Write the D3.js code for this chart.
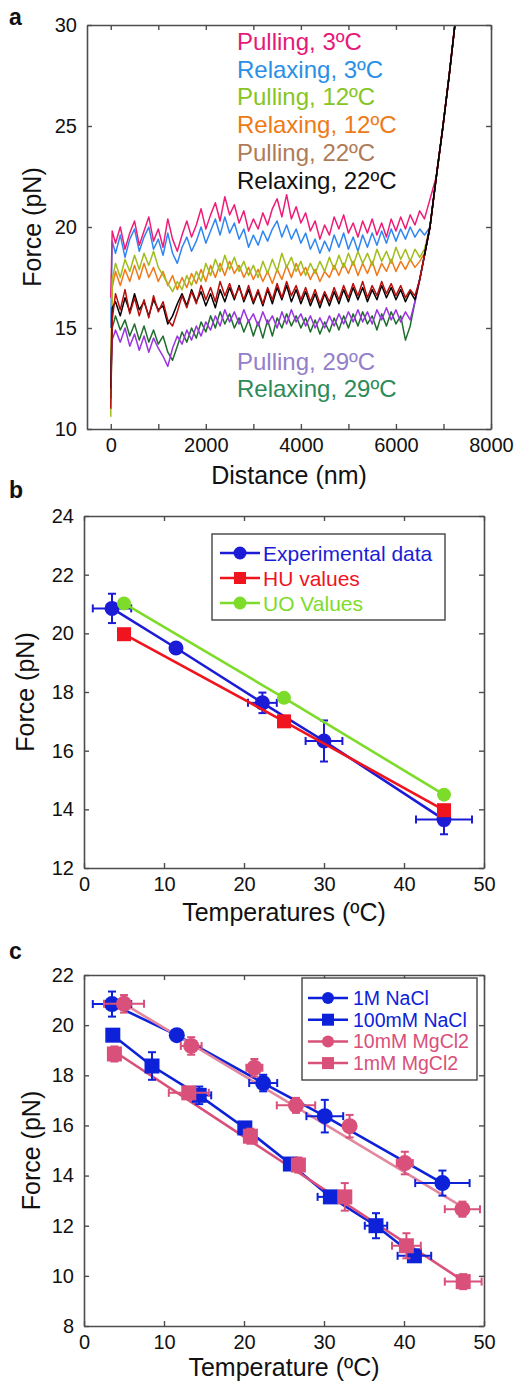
<!DOCTYPE html>
<html>
<head>
<meta charset="utf-8">
<script src="https://cdn.jsdelivr.net/npm/d3@7"></script>
<style>
  body { margin: 0; background: #fff; }
  svg { display: block; font-family: 'Liberation Sans', Arial, Helvetica, sans-serif; }
</style>
</head>
<body>
<svg id="canvas" width="519" height="1381"></svg>
<script>
// ---- panel a : force vs distance traces ----
let distNm = [0, 30, 100, 200, 300, 400, 500, 600, 700, 800,
  900, 1000, 1100, 1200, 1300, 1400, 1500, 1600, 1700, 1800,
  1900, 2000, 2100, 2200, 2300, 2400, 2500, 2600, 2700, 2800,
  2900, 3000, 3100, 3200, 3300, 3400, 3500, 3600, 3700, 3800,
  3900, 4000, 4100, 4200, 4300, 4400, 4500, 4600, 4700, 4800,
  4900, 5000, 5100, 5200, 5300, 5400, 5500, 5600, 5700, 5800,
  5900, 6000, 6100, 6200, 6300, 6400, 6500, 6600]
let pull3 = [16.5, 19.8, 19.2, 20.0, 18.9, 19.7, 20.3, 19.1, 19.8, 20.5,
  19.3, 19.9, 19.0, 20.4, 19.4, 18.8, 19.6, 20.3, 19.5, 20.1,
  20.9, 19.9, 20.6, 21.2, 20.3, 21.5, 20.6, 21.1, 20.2, 20.8,
  19.8, 20.4, 19.9, 20.7, 20.1, 20.9, 21.4, 20.5, 21.6, 20.4,
  21.0, 20.2, 20.7, 19.8, 20.3, 19.4, 20.1, 19.6, 20.5, 19.9,
  20.6, 19.7, 20.2, 19.5, 20.3, 19.7, 20.4, 19.6, 20.2, 19.5,
  20.4, 19.8, 20.5, 19.9, 20.6, 20.1, 20.8, 20.4]
let relax3 = [15.0, 19.3, 18.7, 19.6, 18.5, 19.4, 19.9, 18.8, 19.5, 20.0,
  18.9, 19.4, 18.6, 19.7, 18.7, 18.2, 19.0, 19.5, 18.8, 19.3,
  20.0, 19.2, 19.8, 20.4, 19.6, 20.5, 19.7, 20.2, 19.4, 19.9,
  19.0, 19.6, 19.1, 19.8, 19.3, 19.9, 20.3, 19.5, 20.1, 19.4,
  19.9, 19.2, 19.7, 18.9, 19.4, 18.7, 19.3, 18.8, 19.6, 19.0,
  19.7, 18.9, 19.5, 18.8, 19.6, 19.0, 19.7, 19.1, 19.8, 19.2,
  19.9, 19.3, 19.9, 19.4, 20.0, 19.5, 19.9, 19.6]
let pull12 = [10.6, 17.4, 18.2, 17.5, 18.4, 17.8, 18.6, 17.9, 18.7, 18.1,
  18.8, 18.0, 17.6, 17.2, 16.8, 17.3, 16.9, 17.6, 17.1, 17.8,
  17.3, 18.2, 17.6, 18.4, 17.8, 18.6, 17.9, 18.5, 17.8, 18.3,
  17.6, 18.1, 17.5, 18.3, 17.7, 18.4, 17.8, 18.7, 18.0, 18.5,
  17.8, 18.3, 17.6, 18.2, 17.7, 18.3, 17.8, 18.5, 17.9, 18.6,
  18.0, 18.7, 18.1, 18.8, 18.2, 18.7, 18.1, 18.9, 18.3, 18.8,
  18.2, 19.0, 18.4, 18.9, 18.3, 18.9, 18.5, 18.9]
let relax12 = [13.0, 17.0, 17.8, 17.1, 17.9, 17.3, 18.1, 17.4, 18.2, 17.5,
  18.0, 17.3, 17.8, 17.1, 17.6, 16.9, 17.5, 17.0, 17.7, 17.2,
  17.9, 17.3, 18.1, 17.5, 18.2, 17.6, 18.3, 17.7, 18.1, 17.5,
  18.0, 17.4, 17.9, 17.3, 17.8, 17.2, 17.9, 17.4, 18.1, 17.5,
  18.2, 17.6, 18.0, 17.4, 17.9, 17.3, 17.8, 17.5, 18.1, 17.6,
  18.2, 17.7, 18.3, 17.6, 18.2, 17.7, 18.3, 17.6, 18.2, 17.8,
  18.4, 17.8, 18.3, 17.9, 18.4, 18.0, 18.3, 18.7]
let pull22 = [11.0, 15.4, 16.7, 15.9, 16.9, 15.7, 16.5, 15.6, 16.4, 15.5,
  16.6, 15.8, 16.3, 15.4, 15.1, 15.8, 16.6, 16.0, 16.8, 16.2,
  17.1, 16.4, 17.0, 16.3, 17.3, 16.6, 17.2, 16.5, 17.0, 16.4,
  17.1, 16.3, 16.9, 16.2, 17.0, 16.4, 17.2, 16.5, 17.3, 16.6,
  17.1, 16.4, 17.0, 16.3, 16.9, 16.2, 16.8, 16.3, 17.0, 16.4,
  17.1, 16.5, 17.2, 16.6, 17.3, 16.5, 17.1, 16.6, 17.3, 16.7,
  17.2, 16.6, 17.1, 16.5, 16.9, 16.6, 17.4, 18.6]
let relax22 = [12.0, 16.0, 16.3, 15.6, 16.5, 15.8, 16.7, 15.9, 16.3, 15.6,
  16.4, 15.9, 16.1, 15.2, 15.6, 16.2, 16.7, 16.1, 16.9, 16.3,
  16.8, 16.1, 16.7, 16.0, 16.9, 16.3, 17.0, 16.4, 17.1, 16.3,
  16.9, 16.2, 16.8, 16.1, 16.9, 16.2, 17.0, 16.4, 17.1, 16.3,
  16.9, 16.2, 16.8, 16.1, 16.7, 16.0, 16.7, 16.1, 16.8, 16.2,
  16.9, 16.3, 17.0, 16.4, 17.0, 16.3, 16.9, 16.4, 17.1, 16.5,
  17.0, 16.4, 16.9, 16.3, 16.8, 16.4, 17.4, 18.6]
let pull29 = [12.5, 14.4, 14.9, 14.3, 15.0, 14.1, 14.7, 13.9, 14.6, 13.8,
  14.5, 14.0, 13.6, 13.1, 14.0, 14.6, 14.2, 14.9, 14.4, 15.1,
  14.6, 15.3, 14.9, 15.6, 15.1, 15.9, 15.3, 15.8, 15.2, 15.9,
  15.3, 15.7, 15.1, 15.8, 15.2, 15.6, 15.0, 15.8, 15.2, 15.9,
  15.3, 15.7, 15.1, 15.6, 15.0, 15.5, 15.0, 15.6, 15.1, 15.7,
  15.2, 15.8, 15.3, 15.9, 15.3, 15.8, 15.2, 15.9, 15.4, 16.0,
  15.4, 15.9, 15.3, 15.8, 15.4, 16.3, 17.4, 18.6]
let relax29 = [11.5, 15.0, 15.6, 14.9, 15.4, 14.6, 15.2, 14.4, 15.1, 14.3,
  14.9, 14.2, 14.6, 13.8, 13.4, 14.1, 14.8, 14.3, 15.0, 14.5,
  15.3, 14.8, 15.6, 15.0, 15.8, 15.2, 15.7, 15.0, 15.5, 14.8,
  15.4, 14.6, 15.3, 14.5, 15.4, 14.6, 15.5, 15.0, 15.7, 15.1,
  15.6, 15.0, 15.5, 14.8, 15.4, 14.7, 15.3, 14.8, 15.5, 14.9,
  15.6, 15.0, 15.7, 15.1, 15.8, 15.2, 15.6, 14.9, 15.7, 15.1,
  15.8, 15.2, 15.6, 14.4, 15.1, 16.3, 17.4, 18.6]
// common stretching branch at the end of every trace
let riseNm = [6600, 6716, 6850, 6990, 7120, 7240]
let risePn = [18.6, 20, 22.5, 25, 27.5, 30]

let traceNames = ['Pulling, 3ºC', 'Relaxing, 3ºC', 'Pulling, 12ºC', 'Relaxing, 12ºC', 'Pulling, 22ºC', 'Relaxing, 22ºC', 'Pulling, 29ºC', 'Relaxing, 29ºC']
let traceForces = [pull3, relax3, pull12, relax12, pull22, relax22, pull29, relax29]
let traceColors = ['#ee1c78', '#2f86f0', '#a0bd1c', '#f07818', '#b80d0d', '#000000', '#9b34e0', '#1d6e2a']
let labelColors = ['#e6197a', '#2a8fe6', '#86c523', '#ee7a16', '#b07c58', '#111111', '#9480c8', '#2e8a58']
let drawOrder = [1, 0, 3, 2, 7, 6, 5, 4]

let xTicksA = [0, 1000, 2000, 3000, 4000, 5000, 6000, 7000, 8000]
let yTicksA = [10, 15, 20, 25, 30]

// ---- panel b : force vs temperature, models ----
let tempExp = [3.5, 11.5, 22.3, 30, 45]
let forceExp = [20.85, 19.5, 17.63, 16.33, 13.65]
let tempErrExp = [2.4, 0, 1.8, 2.3, 3.5]
let forceErrExp = [0.5, 0, 0.35, 0.7, 0.5]
let tempModel = [5, 25, 45]
let forceHU = [19.97, 17.0, 13.97]
let forceUO = [21.02, 17.8, 14.5]
let legendB = ['Experimental data', 'HU values', 'UO Values']

let xTicksBC = [0, 10, 20, 30, 40, 50]
let yTicksB = [12, 14, 16, 18, 20, 22, 24]

// ---- panel c : salt conditions ----
let tempNaCl1M = [3.5, 11.6, 22.4, 30.1, 44.8]
let forceNaCl1M = [20.84, 19.6, 17.69, 16.37, 13.7]
let tErrNaCl1M = [2.4, 0, 1.75, 2.3, 3.4]
let fErrNaCl1M = [0.5, 0, 0.33, 0.65, 0.5]

let tempNaCl100 = [3.6, 8.5, 14.4, 20.1, 25.8, 30.8, 36.5, 41.3]
let forceNaCl100 = [19.6, 18.37, 17.2, 15.9, 14.46, 13.15, 12.0, 10.8]
let tErrNaCl100 = [0, 0, 1.5, 0, 0, 1.6, 1.4, 2.1]
let fErrNaCl100 = [0.2, 0.55, 0.35, 0.15, 0.1, 0.1, 0.5, 0.2]

let tempMg10 = [5, 13.4, 21.3, 26.5, 33.2, 40.1, 47.3]
let forceMg10 = [20.85, 19.17, 18.3, 16.8, 15.97, 14.5, 12.66]
let tErrMg10 = [2.5, 1.3, 1.0, 2.4, 0, 1.0, 2.2]
let fErrMg10 = [0.35, 0.35, 0.35, 0.3, 0.45, 0.45, 0.3]
let fitTMg10 = [5, 47.3]
let fitFMg10 = [20.85, 12.75]

let tempMg1 = [3.8, 13.1, 20.8, 26.8, 32.6, 40.3, 47.4]
let forceMg1 = [18.85, 17.3, 15.57, 14.42, 13.15, 11.2, 9.77]
let tErrMg1 = [0, 2.5, 0, 0, 0, 1.8, 2.3]
let fErrMg1 = [0.3, 0.2, 0.3, 0.3, 0.55, 0.5, 0.3]
let fitTMg1 = [3.8, 47.4]
let fitFMg1 = [18.95, 9.8]

let legendC = ['1M NaCl', '100mM NaCl', '10mM MgCl2', '1mM MgCl2']
let yTicksC = [8, 10, 12, 14, 16, 18, 20, 22]

let blueC = '#0d22d8'
let pinkC = '#d9507a'
let pinkLine = '#e3879f'

let svg = d3.select('#canvas')

let styleAxis = (g) => {
  g.attr('font-family', null).attr('font-size', null)
  g.select('.domain').attr('stroke', '#4d4d4d').attr('stroke-width', 1.6)
  g.selectAll('.tick line').attr('stroke', '#4d4d4d').attr('stroke-width', 1.4)
  g.selectAll('.tick text').attr('font-size', 20).attr('fill', '#111')
}

let drawFrame = (x, y, xTicks, yTicks, xFmt) => {
  let [x0, x1] = x.range()
  let [y0, y1] = y.range()
  svg.append('g').attr('transform', 'translate(0,' + y0 + ')')
    .call(d3.axisBottom(x).tickValues(xTicks).tickFormat(xFmt).tickSizeInner(-5).tickSizeOuter(0).tickPadding(9))
    .call(styleAxis)
  svg.append('g').attr('transform', 'translate(0,' + y1 + ')')
    .call(d3.axisTop(x).tickValues(xTicks).tickFormat(() => '').tickSizeInner(-5).tickSizeOuter(0))
    .call(styleAxis)
  svg.append('g').attr('transform', 'translate(' + x0 + ',0)')
    .call(d3.axisLeft(y).tickValues(yTicks).tickFormat(d3.format('d')).tickSizeInner(-5).tickSizeOuter(0).tickPadding(10))
    .call(styleAxis)
  svg.append('g').attr('transform', 'translate(' + x1 + ',0)')
    .call(d3.axisRight(y).tickValues(yTicks).tickFormat(() => '').tickSizeInner(-5).tickSizeOuter(0))
    .call(styleAxis)
}

let axisTitles = (x, y, xTitle, xBase, yBase) => {
  let [x0, x1] = x.range()
  let [y0, y1] = y.range()
  svg.append('text').text(xTitle)
    .attr('x', (x0 + x1) / 2).attr('y', xBase)
    .attr('text-anchor', 'middle').attr('font-size', 25).attr('fill', '#111')
  svg.append('text').text('Force (pN)')
    .attr('transform', 'translate(' + yBase + ',' + (y0 + y1) / 2 + ') rotate(-90)')
    .attr('text-anchor', 'middle').attr('font-size', 25).attr('fill', '#111')
}

let panelLetter = (t, x, y) => {
  svg.append('text').text(t).attr('x', x).attr('y', y)
    .attr('font-size', 23).attr('font-weight', 'bold').attr('fill', '#111')
}

let drawErrors = (x, y, t, f, tErr, fErr, color) => {
  let g = svg.append('g').attr('stroke', color).attr('stroke-width', 2)
  t.forEach((tv, i) => {
    if (tErr[i] > 0) {
      g.append('line').attr('x1', x(tv - tErr[i])).attr('x2', x(tv + tErr[i])).attr('y1', y(f[i])).attr('y2', y(f[i]))
      g.append('line').attr('x1', x(tv - tErr[i])).attr('x2', x(tv - tErr[i])).attr('y1', y(f[i]) - 4).attr('y2', y(f[i]) + 4)
      g.append('line').attr('x1', x(tv + tErr[i])).attr('x2', x(tv + tErr[i])).attr('y1', y(f[i]) - 4).attr('y2', y(f[i]) + 4)
    }
    if (fErr[i] > 0) {
      g.append('line').attr('x1', x(tv)).attr('x2', x(tv)).attr('y1', y(f[i] - fErr[i])).attr('y2', y(f[i] + fErr[i]))
      g.append('line').attr('x1', x(tv) - 4).attr('x2', x(tv) + 4).attr('y1', y(f[i] - fErr[i])).attr('y2', y(f[i] - fErr[i]))
      g.append('line').attr('x1', x(tv) - 4).attr('x2', x(tv) + 4).attr('y1', y(f[i] + fErr[i])).attr('y2', y(f[i] + fErr[i]))
    }
  })
}

let drawLine = (x, y, t, f, color, width) => {
  svg.append('path')
    .attr('d', d3.line().x((d) => x(d[0])).y((d) => y(d[1]))(t.map((tv, i) => [tv, f[i]])))
    .attr('fill', 'none').attr('stroke', color).attr('stroke-width', width)
}

let drawMarkers = (x, y, t, f, color, shape, size) => {
  t.forEach((tv, i) => {
    if (shape === 'circle') {
      svg.append('circle').attr('cx', x(tv)).attr('cy', y(f[i])).attr('r', size).attr('fill', color)
    } else {
      svg.append('rect').attr('x', x(tv) - size).attr('y', y(f[i]) - size)
        .attr('width', size * 2).attr('height', size * 2).attr('fill', color)
    }
  })
}

let legendMarker = (cx, cy, color, shape, size) => {
  svg.append('line').attr('x1', cx - 20).attr('x2', cx + 20).attr('y1', cy).attr('y2', cy)
    .attr('stroke', color).attr('stroke-width', 2.5)
  if (shape === 'circle') {
    svg.append('circle').attr('cx', cx).attr('cy', cy).attr('r', size).attr('fill', color)
  } else {
    svg.append('rect').attr('x', cx - size).attr('y', cy - size).attr('width', size * 2).attr('height', size * 2).attr('fill', color)
  }
}

// ================= panel a =================
let xA = d3.scaleLinear().domain([-500, 8000]).range([87, 491])
let yA = d3.scaleLinear().domain([10, 30]).range([429, 25])

drawOrder.forEach((k) => {
  let f = traceForces[k]
  let pts = distNm.map((d, i) => [d, f[i]])
  let last = f[f.length - 1]
  riseNm.forEach((d, i) => {
    if (d > 6600 && risePn[i] > last) pts.push([d, risePn[i]])
  })
  svg.append('path')
    .attr('d', d3.line().x((p) => xA(p[0])).y((p) => yA(p[1]))(pts))
    .attr('fill', 'none')
    .attr('stroke', traceColors[k])
    .attr('stroke-width', 1.5)
    .attr('stroke-linejoin', 'round')
})
// the relaxing trace shows on top along the stretching branch
svg.append('path')
  .attr('d', d3.line().x((d, i) => xA(d)).y((d, i) => yA(risePn[i]))(riseNm))
  .attr('fill', 'none').attr('stroke', '#000').attr('stroke-width', 1.5)

drawFrame(xA, yA, xTicksA, yTicksA, (d) => d % 2000 === 0 ? d : '')
axisTitles(xA, yA, 'Distance (nm)', 484, 41)
panelLetter('a', 9, 25)

traceNames.forEach((name, i) => {
  let yPos = i < 6 ? 50 + i * 27.7 : 370 + (i - 6) * 27
  svg.append('text').text(name)
    .attr('x', 237).attr('y', yPos)
    .attr('font-size', 24).attr('fill', labelColors[i])
})

// ================= panel b =================
let xB = d3.scaleLinear().domain([0, 50]).range([84, 484])
let yB = d3.scaleLinear().domain([12, 24]).range([868, 516])

drawFrame(xB, yB, xTicksBC, yTicksB, d3.format('d'))
axisTitles(xB, yB, 'Temperatures (ºC)', 921, 34)
panelLetter('b', 9, 498)

drawLine(xB, yB, tempExp, forceExp, '#1c1cd6', 2.6)
drawErrors(xB, yB, tempExp, forceExp, tempErrExp, forceErrExp, '#1c1cd6')
drawMarkers(xB, yB, tempExp, forceExp, '#1c1cd6', 'circle', 7.5)
drawLine(xB, yB, tempModel, forceHU, '#f0141e', 2.6)
drawMarkers(xB, yB, tempModel, forceHU, '#f0141e', 'rect', 7)
drawLine(xB, yB, tempModel, forceUO, '#7ddc2a', 2.6)
drawMarkers(xB, yB, tempModel, forceUO, '#7ddc2a', 'circle', 7)

svg.append('rect').attr('x', 212).attr('y', 534).attr('width', 233).attr('height', 86)
  .attr('fill', '#fff').attr('stroke', '#444').attr('stroke-width', 1.4)
let legendBColors = ['#1c1cd6', '#f0141e', '#7ddc2a']
let legendBShapes = ['circle', 'rect', 'circle']
legendB.forEach((name, i) => {
  let cy = 553 + i * 25
  legendMarker(240, cy, legendBColors[i], legendBShapes[i], legendBShapes[i] === 'circle' ? 6.5 : 6)
  svg.append('text').text(name).attr('x', 263).attr('y', cy + 7.5)
    .attr('font-size', 21).attr('fill', legendBColors[i])
})

// ================= panel c =================
let xC = d3.scaleLinear().domain([0, 50]).range([84, 484])
let yC = d3.scaleLinear().domain([8, 22]).range([1326, 975])

drawFrame(xC, yC, xTicksBC, yTicksC, d3.format('d'))
axisTitles(xC, yC, 'Temperature (ºC)', 1376, 40)
panelLetter('c', 9, 959)

drawLine(xC, yC, tempNaCl1M, forceNaCl1M, blueC, 2.6)
drawLine(xC, yC, tempNaCl100, forceNaCl100, blueC, 2.6)
drawLine(xC, yC, fitTMg10, fitFMg10, pinkLine, 2.6)
drawLine(xC, yC, fitTMg1, fitFMg1, pinkC, 2.6)

drawErrors(xC, yC, tempNaCl1M, forceNaCl1M, tErrNaCl1M, fErrNaCl1M, blueC)
drawMarkers(xC, yC, tempNaCl1M, forceNaCl1M, blueC, 'circle', 8)
drawErrors(xC, yC, tempNaCl100, forceNaCl100, tErrNaCl100, fErrNaCl100, blueC)
drawMarkers(xC, yC, tempNaCl100, forceNaCl100, blueC, 'rect', 7.5)
drawErrors(xC, yC, tempMg10, forceMg10, tErrMg10, fErrMg10, pinkC)
drawMarkers(xC, yC, tempMg10, forceMg10, pinkC, 'circle', 8)
drawErrors(xC, yC, tempMg1, forceMg1, tErrMg1, fErrMg1, pinkC)
drawMarkers(xC, yC, tempMg1, forceMg1, pinkC, 'rect', 7.5)

svg.append('rect').attr('x', 302).attr('y', 978).attr('width', 175).attr('height', 102)
  .attr('fill', '#fff').attr('stroke', '#444').attr('stroke-width', 1.4)
let legendCColors = [blueC, blueC, pinkC, pinkC]
let legendCShapes = ['circle', 'rect', 'circle', 'rect']
legendC.forEach((name, i) => {
  let cy = 998 + i * 21.7
  legendMarker(328, cy, legendCColors[i], legendCShapes[i], 6)
  svg.append('text').text(name).attr('x', 353).attr('y', cy + 7)
    .attr('font-size', 19.5).attr('fill', legendCColors[i])
})
</script>
</body>
</html>
